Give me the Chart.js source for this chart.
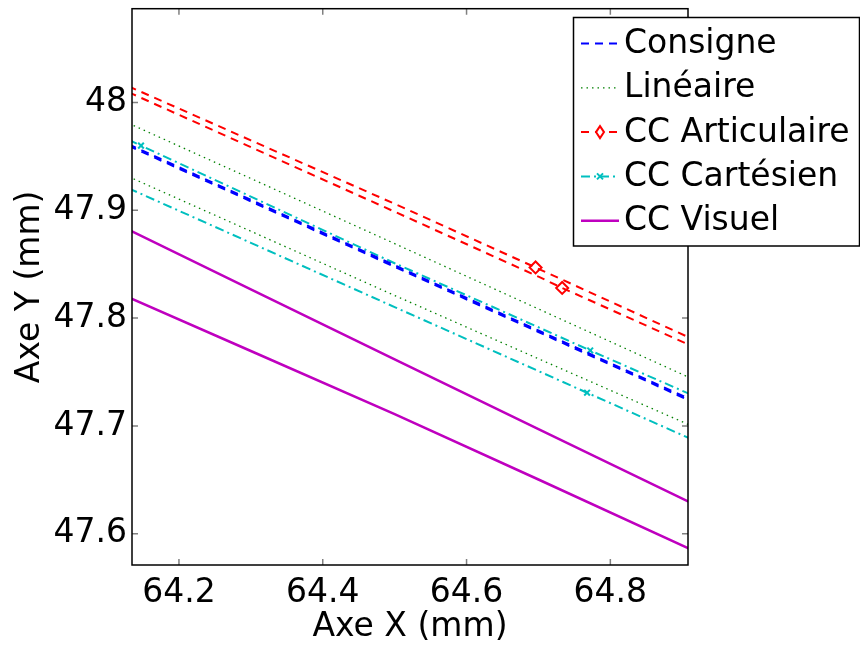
<!DOCTYPE html>
<html>
<head>
<meta charset="utf-8">
<script src="https://cdn.jsdelivr.net/npm/chart.js@4"></script>
<style>
  html, body { margin: 0; padding: 0; background: #fff; }
  #wrap { width: 860px; height: 645px; }
</style>
</head>
<body>
<div id="wrap"><canvas id="trajChart" width="860" height="645"></canvas></div>
<script>
// Echantillons en X (mm), communs a toutes les courbes
const xPts = [64.13, 64.3, 64.5, 64.7, 64.91];

// Deux passages par courbe (aller / retour), Y en mm
const consigneAller = [47.9612, 47.9097, 47.8490, 47.7885, 47.7250];
const consigneRetour = [47.9598, 47.9083, 47.8476, 47.7871, 47.7236];
const lineaireAller = [47.9807, 47.9295, 47.8691, 47.8085, 47.7448];
const lineaireRetour = [47.9312, 47.8806, 47.8210, 47.7623, 47.7009];
const articulaireAller = [48.0150, 47.9649, 47.9060, 47.8457, 47.7819];
const articulaireRetour = [48.0095, 47.9586, 47.8987, 47.8385, 47.7751];
const cartesienAller = [47.9653, 47.9127, 47.8509, 47.7915, 47.7297];
const cartesienRetour = [47.9204, 47.8698, 47.8102, 47.7509, 47.6885];
const visuelAller = [47.8819, 47.8266, 47.7617, 47.6971, 47.6294];
const visuelRetour = [47.8192, 47.7695, 47.7110, 47.6503, 47.5861];

// Marqueurs visibles [x, y]
const articulaireMarks = [[64.696, 47.847], [64.733, 47.828]];
const cartesienMarks = [[64.1472, 47.960], [64.772, 47.770], [64.7676, 47.7308]];

const xTicks = [64.2, 64.4, 64.6, 64.8];
const xTickLabels = ['64.2', '64.4', '64.6', '64.8'];
const yTicks = [47.6, 47.7, 47.8, 47.9, 48];
const yTickLabels = ['47.6', '47.7', '47.8', '47.9', '48'];

const FONT = "'DejaVu Sans', 'Liberation Sans', Arial, sans-serif";
const FSIZE = 33;

// construit aller + coupure + retour, avec les marqueurs inseres
function buildData(aller, retour, marks) {
    const pass = ys => xPts.map((x, i) => ({x: x, y: ys[i]}));
    const a = pass(aller), r = pass(retour);
    (marks || []).forEach(m => {
        // on place le marqueur sur le passage le plus proche
        const target = Math.abs(interp(aller, m[0]) - m[1]) < Math.abs(interp(retour, m[0]) - m[1]) ? a : r;
        target.push({x: m[0], y: m[1], m: true});
        target.sort((p, q) => p.x - q.x);
    });
    return a.concat([{x: 64.91, y: null}], r);
}
function interp(ys, x) {
    for (let i = 0; i < xPts.length - 1; i++) {
        if (x >= xPts[i] && x <= xPts[i + 1]) {
            const t = (x - xPts[i]) / (xPts[i + 1] - xPts[i]);
            return ys[i] + t * (ys[i + 1] - ys[i]);
        }
    }
    return ys[0];
}

const markRadius = r => ctx => (ctx.raw && ctx.raw.m ? r : 0);

const datasets = [
    {
        label: 'Consigne',
        data: buildData(consigneAller, consigneRetour),
        borderColor: '#0000ff', borderWidth: 2, borderDash: [8, 6],
        pointRadius: 0
    },
    {
        label: 'Linéaire',
        data: buildData(lineaireAller, lineaireRetour),
        borderColor: 'rgb(0,128,0)', borderWidth: 1.3, borderDash: [1.5, 4],
        pointRadius: 0
    },
    {
        label: 'CC Articulaire',
        data: buildData(articulaireAller, articulaireRetour, articulaireMarks),
        borderColor: '#ff0000', borderWidth: 2, borderDash: [8, 6],
        pointStyle: 'rectRot', pointRadius: markRadius(6), pointBorderWidth: 2,
        pointBorderColor: '#ff0000', pointBackgroundColor: 'rgba(0,0,0,0)'
    },
    {
        label: 'CC Cartésien',
        data: buildData(cartesienAller, cartesienRetour, cartesienMarks),
        borderColor: 'rgb(0,191,191)', borderWidth: 2, borderDash: [9, 4, 2, 4],
        pointStyle: 'crossRot', pointRadius: markRadius(4), pointBorderWidth: 2,
        pointBorderColor: 'rgb(0,191,191)'
    },
    {
        label: 'CC Visuel',
        data: buildData(visuelAller, visuelRetour),
        borderColor: 'rgb(191,0,191)', borderWidth: 2.5,
        pointRadius: 0
    }
];

// cadre, graduations interieures et legende facon Matlab
const matlabFrame = {
    id: 'matlabFrame',
    afterDatasetsDraw(chart) {
        const {ctx, chartArea: a, scales} = chart;
        ctx.save();
        ctx.strokeStyle = '#808080';
        ctx.lineWidth = 1.5;
        ctx.beginPath();
        scales.x.ticks.forEach(t => {
            const p = scales.x.getPixelForValue(t.value);
            ctx.moveTo(p, a.bottom); ctx.lineTo(p, a.bottom - 6);
            ctx.moveTo(p, a.top); ctx.lineTo(p, a.top + 6);
        });
        scales.y.ticks.forEach(t => {
            const p = scales.y.getPixelForValue(t.value);
            ctx.moveTo(a.left, p); ctx.lineTo(a.left + 6, p);
            ctx.moveTo(a.right, p); ctx.lineTo(a.right - 6, p);
        });
        ctx.stroke();
        ctx.strokeStyle = '#000';
        ctx.lineWidth = 1.5;
        ctx.strokeRect(a.left, a.top, a.right - a.left, a.bottom - a.top);

        // legende
        const box = {x: 573.5, y: 17.5, w: 286, h: 228.5};
        ctx.fillStyle = '#fff';
        ctx.fillRect(box.x, box.y, box.w, box.h);
        ctx.strokeRect(box.x, box.y, box.w, box.h);
        ctx.font = FSIZE + 'px ' + FONT;
        ctx.textBaseline = 'middle';
        chart.data.datasets.forEach((ds, i) => {
            const cy = 43.5 + i * 44.3;
            ctx.save();
            ctx.strokeStyle = ds.borderColor;
            ctx.lineWidth = ds.borderWidth;
            ctx.setLineDash(ds.borderDash || []);
            ctx.beginPath();
            ctx.moveTo(581, cy); ctx.lineTo(619, cy);
            ctx.stroke();
            ctx.setLineDash([]);
            if (ds.pointStyle === 'rectRot') {
                ctx.lineWidth = 2;
                ctx.fillStyle = '#fff';
                ctx.beginPath();
                ctx.moveTo(600, cy - 6); ctx.lineTo(604, cy); ctx.lineTo(600, cy + 6); ctx.lineTo(596, cy);
                ctx.closePath(); ctx.fill(); ctx.stroke();
            } else if (ds.pointStyle === 'crossRot') {
                ctx.lineWidth = 2;
                ctx.beginPath();
                ctx.moveTo(597, cy - 3); ctx.lineTo(603, cy + 3);
                ctx.moveTo(603, cy - 3); ctx.lineTo(597, cy + 3);
                ctx.stroke();
            }
            ctx.restore();
            ctx.fillStyle = '#000';
            ctx.fillText(ds.label, 624, cy + 1);
        });
        ctx.restore();
    }
};

const trajChart = new Chart(document.getElementById('trajChart').getContext('2d'), {
    type: 'scatter',
    data: { datasets: datasets },
    options: {
        responsive: false,
        animation: false,
        showLine: true,
        layout: { padding: { left: 0, right: 172, top: 8.7, bottom: 0 } },
        plugins: {
            legend: { display: false },
            tooltip: { enabled: false }
        },
        scales: {
            x: {
                type: 'linear',
                min: 64.1347,
                max: 64.908,
                afterFit: s => { s.height = 80; s.paddingLeft = 0; s.paddingRight = 0; },
                afterBuildTicks: s => { s.ticks = xTicks.map(v => ({value: v})); },
                grid: { display: false, drawTicks: false },
                border: { display: false },
                ticks: {
                    padding: 9,
                    color: '#000',
                    font: { family: FONT, size: FSIZE },
                    callback: (v, i) => xTickLabels[i]
                },
                title: {
                    display: true,
                    text: 'Axe X (mm)',
                    color: '#000',
                    font: { family: FONT, size: FSIZE, lineHeight: 1.05 },
                    padding: { top: 0, bottom: 0 }
                }
            },
            y: {
                type: 'linear',
                min: 47.571,
                max: 48.087,
                afterFit: s => { s.width = 132; s.paddingTop = 0; s.paddingBottom = 0; },
                afterBuildTicks: s => { s.ticks = yTicks.map(v => ({value: v})); },
                grid: { display: false, drawTicks: false },
                border: { display: false },
                ticks: {
                    padding: 5,
                    color: '#000',
                    font: { family: FONT, size: FSIZE },
                    callback: (v, i) => yTickLabels[i]
                },
                title: {
                    display: true,
                    text: 'Axe Y (mm)',
                    color: '#000',
                    font: { family: FONT, size: FSIZE, lineHeight: 1.2 },
                    padding: { top: 11, bottom: 0 }
                }
            }
        }
    },
    plugins: [matlabFrame]
});
</script>
</body>
</html>
